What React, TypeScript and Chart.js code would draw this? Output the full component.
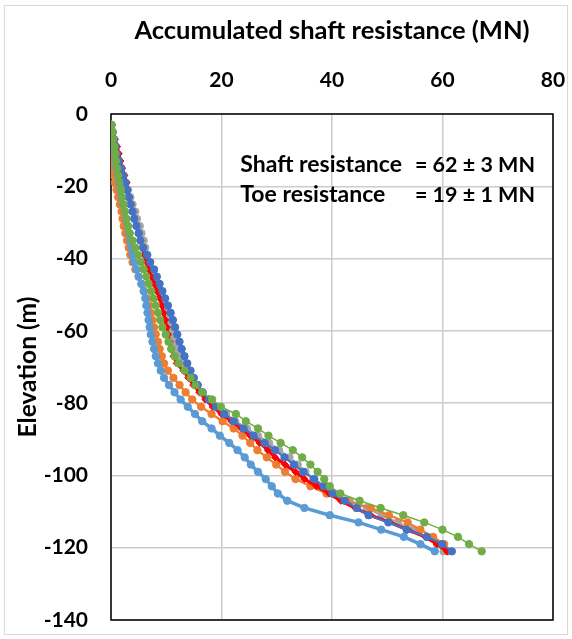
import { useEffect, useRef } from "react";
import { Chart, registerables } from "chart.js";

Chart.register(...registerables);

// Elevation of each measuring point (m)
const elevations = [
  -3, -5, -7, -9, -11, -13, -15, -17, -19, -21,
  -23, -25, -27, -29, -31, -33, -35, -37, -39, -41,
  -43, -45, -47, -49, -51, -53, -55, -57, -59, -61,
  -63, -65, -67, -69, -71, -73, -75, -77, -79, -81,
  -83, -85, -87, -89, -91, -93, -95, -97, -99, -101,
  -103, -105, -107, -109, -111, -113, -115, -117, -119, -121,
];

// Accumulated shaft resistance (MN) per series
const seriesBlue = [
  0.1, 0.3, 0.5, 0.8, 1.0, 1.4, 1.8, 2.2, 2.6, 2.9,
  3.2, 3.5, 3.9, 4.2, 4.6, 5.0, 5.3, 5.8, 6.5, 7.1,
  7.8, 8.3, 8.8, 9.3, 9.8, 10.3, 10.8, 11.2, 11.6, 12.0,
  12.4, 12.8, 13.3, 13.8, 14.4, 15.0, 15.7, 16.6, 17.7, 19.0,
  20.5, 22.2, 24.0, 25.8, 27.8, 29.7, 31.4, 33.1, 34.8, 36.8,
  38.5, 40.1, 42.3, 44.5, 46.6, 50.2, 53.5, 57.2, 59.9, 61.7,
];
const seriesOrange = [
  0.0, -0.2, -0.4, -0.4, -0.2, 0.1, 0.3, 0.5, 0.7, 1.0,
  1.3, 1.6, 1.9, 2.1, 2.3, 2.6, 2.9, 3.2, 3.5, 3.9,
  4.4, 5.0, 5.5, 6.0, 6.5, 6.9, 7.2, 7.5, 7.8, 8.1,
  8.5, 8.8, 9.2, 9.6, 10.3, 11.3, 12.4, 13.5, 14.7, 16.3,
  18.2, 20.2, 22.2, 23.8, 25.2, 26.5, 28.2, 29.9, 31.5, 33.4,
  36.1, 39.0, 42.6, 47.0, 50.3, 53.7, 56.0, 58.3, 60.3, 61.0,
];
const seriesGray = [
  0.1, 0.3, 0.6, 0.9, 1.2, 1.5, 1.9, 2.3, 2.7, 3.1,
  3.5, 3.9, 4.4, 4.7, 5.2, 5.5, 5.9, 6.2, 6.6, 7.0,
  7.5, 8.0, 8.5, 9.0, 9.5, 9.9, 10.2, 10.4, 10.6, 11.0,
  11.4, 11.9, 12.4, 13.1, 13.8, 14.6, 15.5, 16.5, 17.8, 19.2,
  20.8, 22.5, 24.6, 26.6, 28.6, 30.4, 32.3, 33.8, 35.2, 36.6,
  38.4, 40.5, 43.2, 46.3, 49.0, 51.9, 54.6, 57.2, 59.0, 60.2,
];
const seriesRed = [
  0.1, 0.4, 0.7, 1.1, 1.4, 1.7, 2.0, 2.4, 2.8, 3.0,
  3.3, 3.6, 3.9, 4.2, 4.6, 5.0, 5.3, 5.7, 6.0, 6.4,
  6.8, 7.3, 7.8, 8.3, 8.8, 9.2, 9.5, 9.8, 10.1, 10.3,
  10.6, 10.9, 11.3, 11.9, 13.1, 14.0, 14.9, 16.0, 17.1, 18.4,
  20.0, 21.8, 23.6, 25.2, 26.9, 28.4, 29.7, 31.5, 33.4, 35.0,
  37.2, 39.5, 41.6, 44.2, 47.0, 50.5, 53.7, 56.9, 59.0, 60.8,
];
const seriesLightBlue = [
  0.0, 0.2, 0.3, 0.5, 0.6, 0.8, 1.0, 1.2, 1.4, 1.7,
  1.9, 2.2, 2.5, 2.7, 3.0, 3.2, 3.5, 3.7, 3.9, 4.2,
  4.6, 5.0, 5.5, 5.9, 6.2, 6.4, 6.6, 6.8, 7.0, 7.2,
  7.5, 7.8, 8.1, 8.5, 9.0, 9.6, 10.5, 11.5, 12.6, 13.9,
  15.2, 16.5, 18.2, 19.7, 21.4, 22.9, 24.2, 25.3, 26.6, 28.0,
  29.1, 30.2, 31.9, 35.0, 39.6, 44.8, 48.9, 53.0, 56.0, 58.6,
];
const seriesGreen = [
  0.1, 0.3, 0.4, 0.6, 0.8, 0.9, 1.1, 1.3, 1.5, 1.8,
  2.0, 2.3, 2.5, 2.8, 3.1, 3.4, 3.9, 4.4, 4.9, 5.4,
  5.9, 6.4, 6.8, 7.3, 7.7, 8.1, 8.5, 8.9, 9.3, 9.9,
  10.4, 10.9, 11.5, 12.2, 13.3, 14.4, 15.3, 16.5, 18.3, 19.9,
  22.6, 24.4, 26.6, 28.5, 30.7, 32.9, 34.6, 36.1, 37.4, 38.6,
  39.6, 41.5, 45.0, 48.8, 52.9, 56.7, 60.0, 62.8, 64.8, 67.1,
];

const xTickValues = [0, 20, 40, 60, 80];
const yTickValues = [0, -20, -40, -60, -80, -100, -120, -140];

const annotationLines = [
  { label: "Shaft resistance", value: "= 62 ± 3 MN", elev: -14.0 },
  { label: "Toe resistance", value: "= 19 ± 1 MN", elev: -22.3 },
];
const annotationLabelX = 23.4;
const annotationValueX = 55.0;

const FONT = "Lato, 'Open Sans', sans-serif";

export default function App() {
  const ref = useRef<HTMLCanvasElement | null>(null);

  useEffect(() => {
    document.body.style.margin = "0";
    const canvas = ref.current;
    if (!canvas) return;

    const pts = (vals: number[]) => vals.map((v, i) => ({ x: v, y: elevations[i] }));

    const mk = (
      label: string,
      vals: number[],
      color: string,
      lineWidth: number,
      radius: number,
      order: number,
      pointStyle: any = "circle"
    ) => ({
      label,
      data: pts(vals),
      showLine: true,
      borderColor: color,
      backgroundColor: color,
      borderWidth: lineWidth,
      pointRadius: radius,
      pointHoverRadius: radius,
      pointBorderWidth: 1,
      pointBorderColor: color,
      pointBackgroundColor: color,
      pointStyle,
      tension: 0,
      order,
    });

    const framePlugin = {
      id: "frame",
      beforeDraw(chart: any) {
        const { ctx, width, height } = chart;
        ctx.save();
        ctx.fillStyle = "#ffffff";
        ctx.fillRect(0, 0, width, height);
        ctx.strokeStyle = "#d9d9d9";
        ctx.lineWidth = 1;
        ctx.strokeRect(4.5, 5.5, width - 9, height - 10);
        ctx.restore();
      },
      beforeDatasetsDraw(chart: any) {
        const { ctx, chartArea } = chart;
        ctx.save();
        ctx.strokeStyle = "#000000";
        ctx.lineWidth = 1.5;
        ctx.strokeRect(chartArea.left, chartArea.top, chartArea.right - chartArea.left, chartArea.bottom - chartArea.top);
        ctx.restore();
      },
      afterDraw(chart: any) {
        const { ctx, scales } = chart;
        ctx.save();
        ctx.fillStyle = "#000000";
        ctx.textBaseline = "middle";
        ctx.textAlign = "left";
        annotationLines.forEach((ln) => {
          const y = scales.y.getPixelForValue(ln.elev);
          ctx.font = `bold 23px ${FONT}`;
          ctx.fillText(ln.label, scales.x.getPixelForValue(annotationLabelX), y);
          ctx.font = `bold 21.5px ${FONT}`;
          ctx.fillText(ln.value, scales.x.getPixelForValue(annotationValueX), y);
        });
        ctx.restore();
      },
    };

    const chart = new Chart(canvas, {
      type: "scatter",
      data: {
        datasets: [
          mk("Gray", seriesGray, "#A5A5A5", 2.25, 3.7, 6),
          mk("Orange", seriesOrange, "#ED7D31", 2.25, 3.7, 5),
          mk("Red", seriesRed, "#FF0000", 3.25, 3.6, 4, "rectRot"),
          mk("Light blue", seriesLightBlue, "#5B9BD5", 3.5, 3.7, 3),
          mk("Blue", seriesBlue, "#4472C4", 2.25, 3.7, 2),
          mk("Green", seriesGreen, "#70AD47", 1.5, 3.7, 0),
        ] as any,
      },
      options: {
        animation: false,
        responsive: false,
        events: [],
        layout: { padding: { left: 12, top: 10, right: 19, bottom: 19 } },
        plugins: {
          legend: { display: false },
          tooltip: { enabled: false },
        },
        scales: {
          x: {
            type: "linear",
            position: "top",
            min: 0,
            max: 80,
            afterBuildTicks: (s: any) => {
              s.ticks = xTickValues.map((v) => ({ value: v }));
            },
            afterFit: (s: any) => {
              s.height = 104;
              s.paddingLeft = 0;
              s.paddingRight = 0;
              s.paddingTop = 0;
              s.paddingBottom = 0;
            },
            grid: { color: "#cccccc", lineWidth: 1.5, drawTicks: false },
            border: { display: false },
            ticks: {
              padding: 21,
              color: "#000000",
              font: { family: FONT, size: 21, weight: "bold" },
              maxRotation: 0,
            },
            title: {
              display: true,
              text: "Accumulated shaft resistance (MN)",
              color: "#000000",
              font: { family: FONT, size: 25.5, weight: "bold" },
              padding: { top: 5, bottom: 0 },
            },
          },
          y: {
            type: "linear",
            min: -140,
            max: 0,
            afterBuildTicks: (s: any) => {
              s.ticks = yTickValues.map((v) => ({ value: v }));
            },
            afterFit: (s: any) => {
              s.width = 99;
              s.paddingLeft = 0;
              s.paddingRight = 0;
              s.paddingTop = 0;
              s.paddingBottom = 0;
            },
            grid: { color: "#cccccc", lineWidth: 1.5, drawTicks: false },
            border: { display: false },
            ticks: {
              padding: 23,
              color: "#000000",
              font: { family: FONT, size: 21, weight: "bold" },
            },
            title: {
              display: true,
              text: "Elevation (m)",
              color: "#000000",
              font: { family: FONT, size: 24.5, weight: "bold" },
              padding: { top: 1, bottom: 0 },
            },
          },
        },
      } as any,
      plugins: [framePlugin],
    });

    return () => chart.destroy();
  }, []);

  return <canvas ref={ref} width={572} height={639} style={{ display: "block" }} />;
}
